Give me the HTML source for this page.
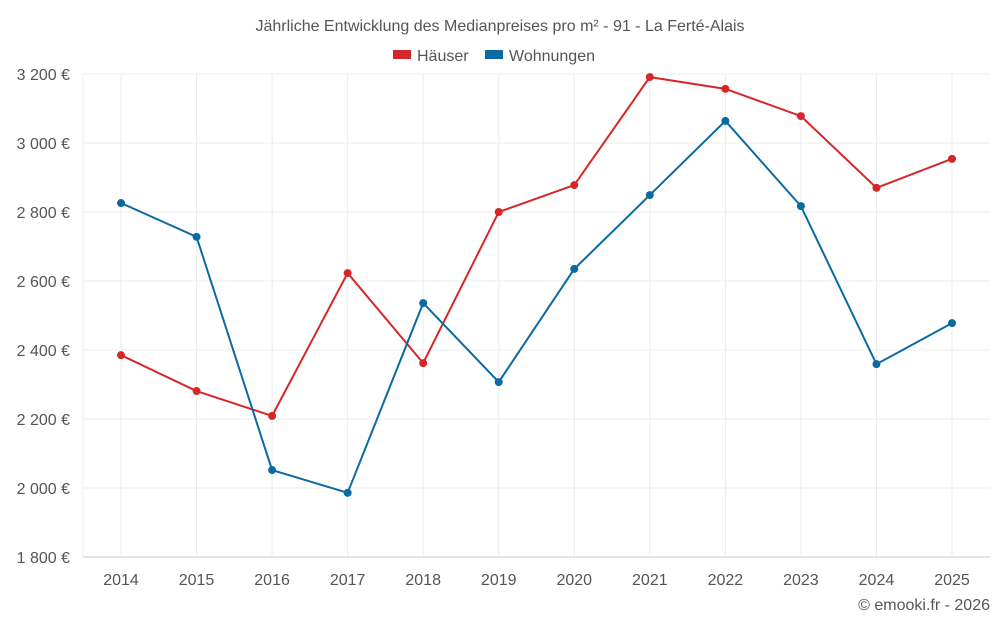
<!DOCTYPE html>
<html><head><meta charset="utf-8">
<style>
body{margin:0;background:#fff;font-family:"Liberation Sans",sans-serif;}
svg text{font-family:"Liberation Sans",sans-serif;}
</style></head>
<body>
<svg id="chart" width="1000" height="625" xmlns="http://www.w3.org/2000/svg">
<text x="500" y="31" text-anchor="middle" font-size="16" fill="#555">Jährliche Entwicklung des Medianpreises pro m² - 91 - La Ferté-Alais</text>
<g><rect x="393" y="50" width="18" height="9" fill="#d62728"/><text x="417" y="61" font-size="16" fill="#555">Häuser</text></g>
<g><rect x="485" y="50" width="18" height="9" fill="#0a6aa1"/><text x="509" y="61" font-size="16" fill="#555">Wohnungen</text></g>
<g id="grid"></g><g id="axes"></g><g id="series"></g>
<text x="990" y="610" text-anchor="end" font-size="16" fill="#555">© emooki.fr - 2026</text>
</svg>
<script>
const years=[2014,2015,2016,2017,2018,2019,2020,2021,2022,2023,2024,2025];
const haeuser=[2385,2281,2209,2623,2362,2800,2878,3191,3157,3078,2870,2954];
const wohnungen=[2826,2728,2052,1986,2536,2307,2635,2849,3064,2817,2359,2478];
const yTicks=[1800,2000,2200,2400,2600,2800,3000,3200];
const NS="http://www.w3.org/2000/svg";
const L=83,R=990,T=74,B=557,yMin=1800,yMax=3200;
const x=i=>121+i*(952-121)/(years.length-1);
const y=v=>B-(v-yMin)/(yMax-yMin)*(B-T);
function mk(t,a,p){const e=document.createElementNS(NS,t);for(const k in a)e.setAttribute(k,a[k]);p.appendChild(e);return e;}
const g=document.getElementById('grid'),ax=document.getElementById('axes'),s=document.getElementById('series');
yTicks.forEach(v=>{
 const l=mk('line',{x1:L,x2:R,y1:y(v),y2:y(v),stroke:v===yMin?'#ccc':'#ececec'},g);
 
 
 const t=mk('text',{x:70,y:y(v)+6,'text-anchor':'end','font-size':16,fill:'#555'},ax);
 t.textContent=v.toLocaleString('fr-FR').replace(/\u202f|\u00a0/g,' ')+' €';
 
 
});
const vl=mk('line',{x1:L,x2:L,y1:T,y2:B,stroke:'#ececec'},g);


years.forEach((yr,i)=>{
 const l=mk('line',{x1:x(i),x2:x(i),y1:T,y2:B,stroke:'#ececec'},g);
 
 
 const t=mk('text',{x:x(i),y:585,'text-anchor':'middle','font-size':16,fill:'#555'},ax);
 t.textContent=yr;
 
 
});
function series(vals,col,name){
 const p=mk('polyline',{points:vals.map((v,i)=>x(i)+','+y(v)).join(' '),fill:'none',stroke:col,'stroke-width':2},s);
 
 
 vals.forEach((v,i)=>{
  const c=mk('circle',{cx:x(i),cy:y(v),r:4,fill:col},s);
  
  
 });
}
series(haeuser,'#d62728','haeuser');
series(wohnungen,'#0a6aa1','wohnungen');
</script>
</body></html>
